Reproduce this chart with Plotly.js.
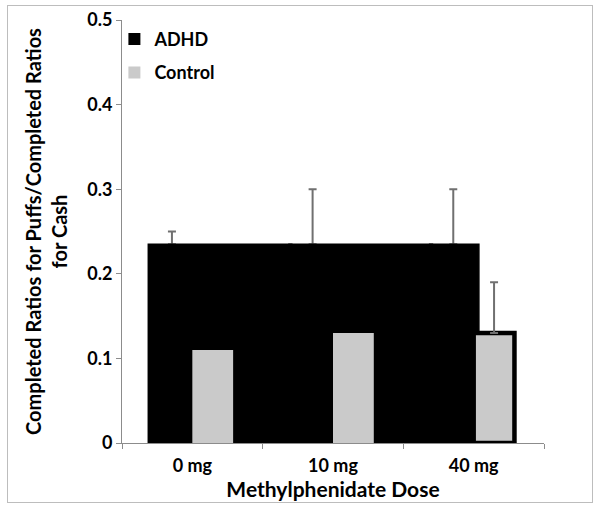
<!DOCTYPE html>
<html>
<head>
<meta charset="utf-8">
<script src="https://cdn.plot.ly/plotly-3.0.1.min.js"></script>
<style>
  html, body { margin: 0; padding: 0; background: #fff; }
  #wrap { position: relative; width: 600px; height: 517px; }
  #chart { position: absolute; left: 0; top: 0; width: 600px; height: 517px; }
  #frame { position: absolute; left: 7px; top: 5px; width: 584px; height: 496px;
           border: 1px solid #bdbdbd; pointer-events: none; }
</style>
</head>
<body>
<div id="wrap">
  <div id="chart"></div>
  <div id="frame"></div>
</div>
<script>
// ---- data ----
const doses = ["0 mg", "10 mg", "40 mg"];
const adhdValues = [0.235, 0.235, 0.235];
const adhdErrors = [0.015, 0.065, 0.065];
const controlValues = [0.11, 0.13, 0.13];
const controlErrors = [NaN, NaN, 0.06];   // no visible error bar for 0 mg / 10 mg
const yTickVals = [0, 0.1, 0.2, 0.3, 0.4, 0.5];
const yTickText = ["0", "0.1", "0.2", "0.3", "0.4", "0.5"];

const FONT = "Lato, 'Open Sans', sans-serif";
const errStyle = { color: "#707070", thickness: 2, width: 4 };

const traces = [
  { // ADHD bars carrying the error bars (drawn first, lower caps covered by the block)
    type: "bar", x: doses, y: adhdValues, name: "ADHD", legendgroup: "a",
    width: 0.29, offset: -0.29,
    marker: { color: "#000000", line: { width: 0 } },
    error_y: Object.assign({ type: "data", array: adhdErrors, symmetric: false, arrayminus: [0, 0, 0] }, errStyle)
  },
  { // merged black block
    type: "bar", x: doses, y: adhdValues, name: "ADHD", legendgroup: "a",
    width: [1.02, 1.02, 0.35], offset: -0.313,
    marker: { color: "#000000", line: { width: 1.5, color: "#000000" } },
    showlegend: false, hoverinfo: "skip"
  },
  {
    type: "bar", x: doses, y: controlValues, name: "Control", legendgroup: "b",
    width: 0.29, offset: 0,
    marker: { color: "#cacaca", line: { width: [0, 0, 4.5], color: "#000000" } },
    error_y: Object.assign({ type: "data", array: controlErrors, symmetric: false, arrayminus: [NaN, NaN, 0] }, errStyle)
  }
];

const layout = {
  width: 600, height: 517,
  margin: { l: 122, r: 56, t: 20, b: 74 },
  paper_bgcolor: "#ffffff", plot_bgcolor: "#ffffff",
  barmode: "overlay",
  font: { family: FONT, color: "#000000" },
  showlegend: true,
  legend: {
    x: -0.018, y: 0.998, xanchor: "left", yanchor: "top",
    font: { family: FONT, size: 18, color: "#000", weight: "bold" },
    bgcolor: "rgba(0,0,0,0)", traceorder: "grouped", tracegroupgap: 7, itemwidth: 30
  },
  xaxis: {
    type: "category", range: [-0.5, 2.5],
    showline: true, linecolor: "#8c8c8c", linewidth: 1,
    ticks: "outside", tickson: "boundaries", ticklen: 5, tickcolor: "#8c8c8c",
    ticklabelstandoff: 6,
    showgrid: false, zeroline: false,
    tickfont: { family: FONT, size: 18, color: "#000", weight: "bold" },
    title: { text: "Methylphenidate Dose", font: { family: FONT, size: 21, color: "#000", weight: "bold" }, standoff: 4 }
  },
  yaxis: {
    range: [0, 0.5], tickvals: yTickVals, ticktext: yTickText,
    showline: true, linecolor: "#8c8c8c", linewidth: 1,
    ticks: "outside", ticklen: 5, tickcolor: "#8c8c8c",
    showgrid: false, zeroline: false,
    tickfont: { family: FONT, size: 18, color: "#000", weight: "bold" },
    title: { text: "Completed Ratios for Puffs/Completed Ratios<br>for Cash", font: { family: FONT, size: 20, color: "#000", weight: "bold" }, standoff: 14 }
  }
};

Plotly.newPlot("chart", traces, layout, { displayModeBar: false, staticPlot: true });
</script>
</body>
</html>
